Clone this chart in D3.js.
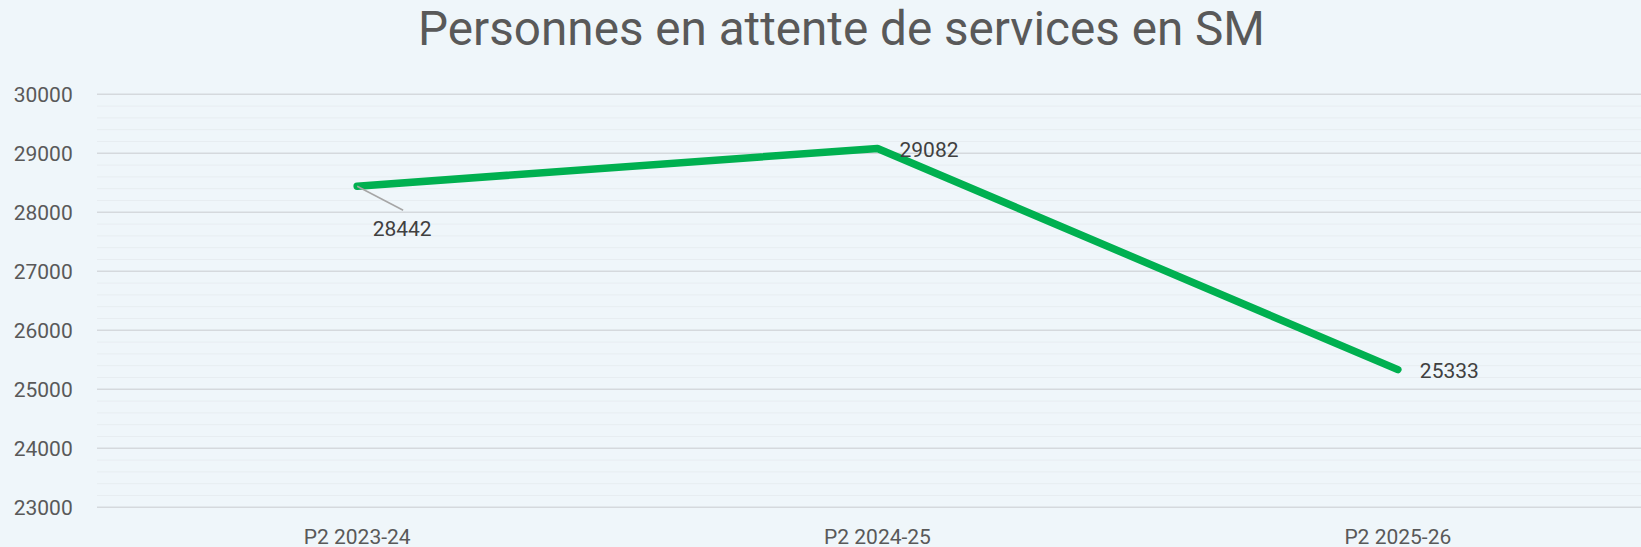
<!DOCTYPE html>
<html>
<head>
<meta charset="utf-8">
<script src="https://cdn.jsdelivr.net/npm/d3@7"></script>
<style>
  html, body { margin: 0; padding: 0; background: #eff6fa; overflow: hidden; }
  svg { display: block; font-family: Roboto, "Noto Sans", sans-serif; }
</style>
</head>
<body>
<svg id="chart"></svg>
<script>
// Chart data
const categories = ['P2 2023-24', 'P2 2024-25', 'P2 2025-26'];
const values = [28442, 29082, 25333];
const yTicks = [23000, 24000, 25000, 26000, 27000, 28000, 29000, 30000];
const title = 'Personnes en attente de services en SM';

const width = 1641;
const height = 547;

const svg = d3.select('#chart')
  .attr('width', width)
  .attr('height', height);

svg.append('rect')
  .attr('width', width)
  .attr('height', height)
  .attr('fill', '#eff6fa');

// plot area runs a bit past the right edge of the window
const plotLeft = 97;
const plotRight = 1658;

const x = d3.scaleBand()
  .domain(categories)
  .range([plotLeft, plotRight]);

const y = d3.scaleLinear()
  .domain([23000, 30000])
  .range([507.3, 94.3]);

const cx = (d) => x(d) + x.bandwidth() / 2;

// minor gridlines every 200
const minorTicks = d3.range(23000, 30001, 200).filter((v) => v % 1000 !== 0);
svg.append('g')
  .selectAll('line')
  .data(minorTicks)
  .join('line')
  .attr('x1', plotLeft)
  .attr('x2', width)
  .attr('y1', (d) => y(d))
  .attr('y2', (d) => y(d))
  .attr('stroke', '#e7edf1')
  .attr('stroke-width', 1);

// major gridlines
svg.append('g')
  .selectAll('line')
  .data(yTicks)
  .join('line')
  .attr('x1', plotLeft)
  .attr('x2', width)
  .attr('y1', (d) => y(d))
  .attr('y2', (d) => y(d))
  .attr('stroke', '#d5d9dd')
  .attr('stroke-width', 1.5);

// y tick labels
svg.append('g')
  .selectAll('text')
  .data(yTicks)
  .join('text')
  .attr('x', 72.7)
  .attr('y', (d) => y(d))
  .attr('dy', '0.35em')
  .attr('text-anchor', 'end')
  .attr('font-size', 21)
  .attr('fill', '#595959')
  .text((d) => d);

// x labels (cut by the bottom edge, as in the original)
svg.append('g')
  .selectAll('text')
  .data(categories)
  .join('text')
  .attr('x', cx)
  .attr('y', 544)
  .attr('text-anchor', 'middle')
  .attr('font-size', 21)
  .attr('fill', '#595959')
  .text((d) => d);

// the line
const line = d3.line()
  .x((d, i) => cx(categories[i]))
  .y((d) => y(d));

svg.append('path')
  .datum(values)
  .attr('d', line)
  .attr('fill', 'none')
  .attr('stroke', '#00b050')
  .attr('stroke-width', 7.5)
  .attr('stroke-linejoin', 'round')
  .attr('stroke-linecap', 'round');

// data labels: first sits below with a leader line, others to the right
const first = { x: cx(categories[0]), y: y(values[0]) };
svg.append('line')
  .attr('x1', first.x)
  .attr('y1', first.y)
  .attr('x2', first.x + 46)
  .attr('y2', first.y + 24)
  .attr('stroke', '#a6a6a6')
  .attr('stroke-width', 1.5);

svg.append('g')
  .selectAll('text')
  .data(values)
  .join('text')
  .attr('x', (d, i) => (i === 0 ? cx(categories[i]) + 45 : cx(categories[i]) + 22))
  .attr('y', (d, i) => (i === 0 ? y(d) + 50 : y(d) + 1))
  .attr('dy', (d, i) => (i === 0 ? 0 : '0.35em'))
  .attr('text-anchor', (d, i) => (i === 0 ? 'middle' : 'start'))
  .attr('font-size', 21)
  .attr('fill', '#404040')
  .text((d) => d);

// title, scaled to the reference width
const titleText = svg.append('text')
  .attr('x', 841.5)
  .attr('y', 45)
  .attr('text-anchor', 'middle')
  .attr('font-size', 46)
  .attr('fill', '#595959')
  .text(title);

const tw = titleText.node().getComputedTextLength();
titleText.attr('font-size', 46 * 847 / tw);
</script>
</body>
</html>
